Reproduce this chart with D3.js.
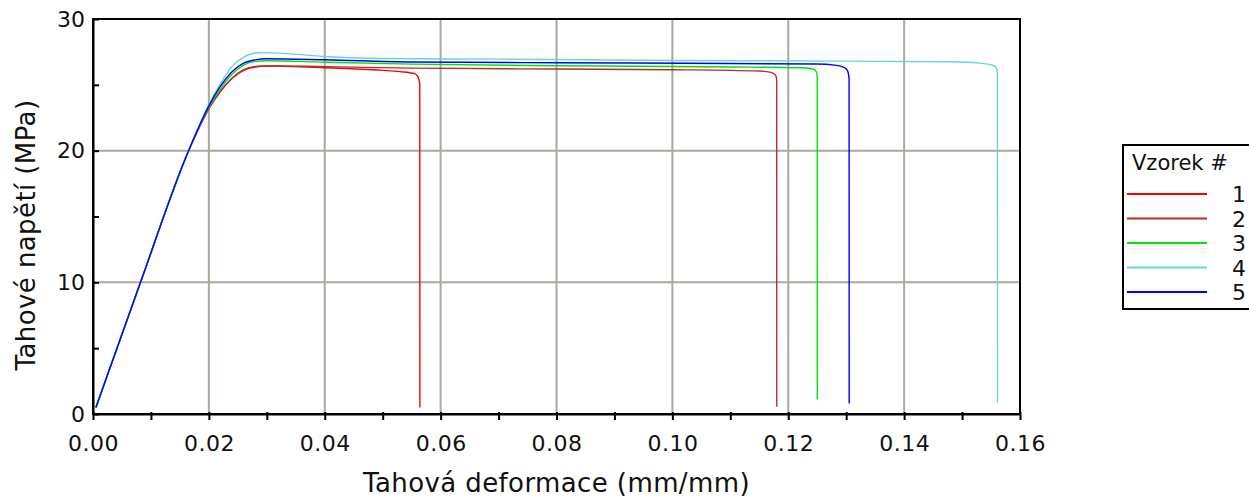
<!DOCTYPE html>
<meta charset="UTF-8">
<style>
    body { margin: 0; background: #fff; }
    svg text { font-family: "DejaVu Sans", Verdana, sans-serif; fill: #111; }
    .grid line { stroke: #aca89c; stroke-width: 2px; }
    .series { fill: none; stroke-width: 1.4px; }
</style>
<body>
<div id="chart"></div>
<script src="https://d3js.org/d3.v7.min.js"></script>
<script>

// sample names and colours (legend order)
var samples = ["1", "2", "3", "4", "5"];
var colors = ["#ff0000", "#b03030", "#00e600", "#66d6d6", "#0000ff"];

// strain (mm/mm) / stress (MPa)
var strain1 = [0.0005, 0.0082, 0.0165, 0.020, 0.022, 0.024, 0.026, 0.028, 0.030, 0.040, 0.050, 0.053, 0.0555, 0.0561, 0.0564, 0.05642];
var stress1 = [0.5, 10.0, 20.0, 23.2, 24.5, 25.5, 26.1, 26.35, 26.42, 26.3, 26.1, 26.0, 25.85, 25.6, 25.0, 0.5];

var strain2 = [0.0005, 0.0082, 0.0165, 0.020, 0.022, 0.024, 0.026, 0.028, 0.030, 0.040, 0.055, 0.080, 0.100, 0.115, 0.1170, 0.1178, 0.1180, 0.11802];
var stress2 = [0.5, 10.0, 20.0, 23.2, 24.5, 25.5, 26.15, 26.4, 26.45, 26.38, 26.27, 26.2, 26.15, 26.05, 25.95, 25.75, 25.4, 0.55];

var strain3 = [0.0005, 0.0082, 0.0165, 0.020, 0.022, 0.024, 0.026, 0.028, 0.030, 0.040, 0.055, 0.080, 0.110, 0.1225, 0.1243, 0.1249, 0.1250, 0.12502];
var stress3 = [0.5, 10.0, 20.0, 23.3, 24.7, 25.8, 26.5, 26.78, 26.83, 26.72, 26.57, 26.45, 26.36, 26.3, 26.2, 25.95, 25.6, 1.1];

var strain4 = [0.0005, 0.0082, 0.0165, 0.020, 0.022, 0.024, 0.026, 0.028, 0.030, 0.034, 0.040, 0.050, 0.070, 0.100, 0.130, 0.148, 0.153, 0.1555, 0.1560, 0.1561, 0.15612];
var stress4 = [0.5, 10.0, 20.0, 23.5, 25.1, 26.4, 27.1, 27.42, 27.45, 27.35, 27.15, 27.0, 26.95, 26.85, 26.8, 26.75, 26.65, 26.45, 26.2, 25.8, 0.85];

var strain5 = [0.0005, 0.0082, 0.0165, 0.020, 0.022, 0.024, 0.026, 0.028, 0.030, 0.040, 0.055, 0.080, 0.110, 0.125, 0.128, 0.1295, 0.1302, 0.1304, 0.1305, 0.13052];
var stress5 = [0.5, 10.0, 20.0, 23.4, 24.9, 26.0, 26.65, 26.9, 26.98, 26.9, 26.73, 26.68, 26.62, 26.58, 26.5, 26.35, 26.1, 25.8, 25.4, 0.8];

var xTicks = [0, 0.02, 0.04, 0.06, 0.08, 0.10, 0.12, 0.14, 0.16];
var yTicks = [0, 10, 20, 30];

var seriesStrain = [strain1, strain2, strain3, strain4, strain5];
var seriesStress = [stress1, stress2, stress3, stress4, stress5];

// set the dimensions and margins of the graph
var margin = {top: 19, right: 229, bottom: 83, left: 93},
    width = 1249 - margin.left - margin.right,
    height = 497 - margin.top - margin.bottom;

var x = d3.scaleLinear().domain([0, 0.16]).range([0, width]);
var y = d3.scaleLinear().domain([0, 30]).range([height, 0]);

var svg = d3.select("#chart").append("svg")
    .attr("width", 1249)
    .attr("height", 497);

var g = svg.append("g")
    .attr("transform", "translate(" + margin.left + "," + margin.top + ")");

// grid
g.append("g").attr("class", "grid")
    .selectAll("line")
    .data(xTicks.slice(1, -1))
    .enter().append("line")
    .attr("x1", function(d) { return x(d); })
    .attr("x2", function(d) { return x(d); })
    .attr("y1", 0).attr("y2", height);

g.append("g").attr("class", "grid")
    .selectAll("line")
    .data(yTicks.slice(1, -1))
    .enter().append("line")
    .attr("y1", function(d) { return y(d); })
    .attr("y2", function(d) { return y(d); })
    .attr("x1", 0).attr("x2", width);

// curves
var line = d3.line()
    .curve(d3.curveMonotoneX)
    .x(function(d) { return x(d[0]); })
    .y(function(d) { return y(d[1]); });

seriesStrain.forEach(function(s, i) {
    var pts = s.map(function(v, j) { return [v, seriesStress[i][j]]; });
    g.append("path")
        .datum(pts)
        .attr("class", "series")
        .attr("stroke", colors[i])
        .attr("d", line);
});

// frame
g.append("rect")
    .attr("width", width).attr("height", height)
    .attr("fill", "none").attr("stroke", "#000").attr("stroke-width", 2);

// X axis
var xAxis = g.append("g")
    .attr("transform", "translate(0," + height + ")")
    .call(d3.axisBottom(x).tickValues(d3.range(0, 0.1601, 0.01)).tickSizeInner(6).tickSizeOuter(0)
        .tickFormat(function(d, i) { return i % 2 === 0 ? d3.format(".2f")(d) : ""; }));
xAxis.select(".domain").attr("stroke-width", 2);
xAxis.selectAll(".tick line").attr("stroke-width", 2).attr("y1", -2);
xAxis.selectAll("text").style("font-size", "22px").style("letter-spacing", "0.5px").attr("dy", "1.25em");

// Y axis
var yAxis = g.append("g")
    .call(d3.axisLeft(y).tickValues(d3.range(0, 30.1, 5)).tickSizeInner(4).tickSizeOuter(0)
        .tickFormat(function(d) { return d % 10 === 0 ? d : ""; }));
yAxis.select(".domain").attr("stroke-width", 2);
yAxis.selectAll(".tick line").attr("stroke-width", 2).attr("x2", 6);
yAxis.selectAll("text").style("font-size", "22px").attr("x", -8);

// axis titles
svg.append("text")
    .attr("x", margin.left + width / 2)
    .attr("y", 492)
    .attr("text-anchor", "middle")
    .style("font-size", "26px")
    .style("letter-spacing", "0.4px")
    .text("Tahová deformace (mm/mm)");

svg.append("text")
    .attr("transform", "translate(35,235) rotate(-90)")
    .attr("text-anchor", "middle")
    .style("font-size", "26px")
    .style("letter-spacing", "0.4px")
    .text("Tahové napětí (MPa)");

// legend
var legend = svg.append("g").attr("transform", "translate(1123,145)");
legend.append("rect")
    .attr("width", 140).attr("height", 164)
    .attr("fill", "#fff").attr("stroke", "#000").attr("stroke-width", 2);
legend.append("text")
    .attr("x", 9).attr("y", 25)
    .style("font-size", "21px")
    .text("Vzorek #");
var items = legend.selectAll(".item")
    .data(samples)
    .enter().append("g")
    .attr("transform", function(d, i) { return "translate(0," + (49 + i * 24.5) + ")"; });
items.append("line")
    .attr("x1", 4).attr("x2", 84)
    .attr("stroke", function(d, i) { return colors[i]; })
    .attr("stroke-width", 2);
items.append("text")
    .attr("x", 123).attr("y", 8)
    .attr("text-anchor", "end")
    .style("font-size", "22px")
    .text(function(d) { return d; });

</script>
</body>
